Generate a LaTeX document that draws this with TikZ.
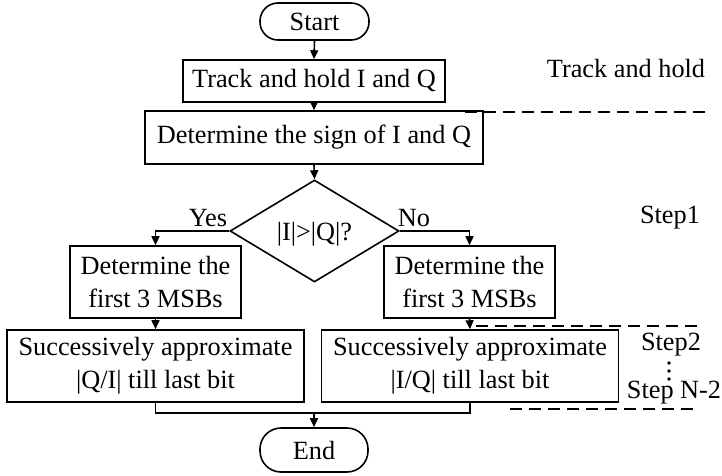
\documentclass[tikz,border=0pt]{standalone}
\usepackage{fontspec}
\setmainfont{Liberation Serif}
\usetikzlibrary{shapes.geometric,arrows.meta}
\begin{document}
\begin{tikzpicture}[x=1pt,y=-1pt,
  every node/.style={font=\fontsize{26.3}{33}\selectfont, inner sep=0pt},
  box/.style={draw, line width=1.6pt, align=center},
  term/.style={draw, line width=1.6pt, rounded corners=18pt},
  conn/.style={line width=1.6pt},
  arr/.style={conn, -{Triangle[length=9pt,width=8pt]}},
  sep/.style={line width=1.5pt, dash pattern=on 12pt off 7pt},
  lbl/.style={anchor=center}]
\useasboundingbox (0,0) rectangle (722,475);
% nodes
\node[term, minimum width=109pt, minimum height=37pt] (start) at (314.5,21.5) {Start};
\node[box, minimum width=262pt, minimum height=42pt] (track) at (314,81) {Track and hold I and Q};
\node[box, minimum width=338pt, minimum height=53pt] (sign) at (314,137.5) {Determine the sign of I and Q};
\node[draw, diamond, line width=1.6pt, minimum width=169pt, minimum height=102pt] (dia) at (314.5,231) {};
\node (diat) at (314.5,234) {|I|>|Q|?};
\node[box, minimum width=171pt, minimum height=72pt] (l1) at (155.5,282) {Determine the\\first 3 MSBs};
\node[box, minimum width=171pt, minimum height=72pt] (r1) at (469.5,282) {Determine the\\first 3 MSBs};
\node[box, minimum width=297pt, minimum height=72pt] (l2) at (155.5,366) {Successively approximate\\|Q/I| till last bit};
\node[box, minimum width=297pt, minimum height=72pt] (r2) at (470,366) {Successively approximate\\|I/Q| till last bit};
\node[term, minimum width=108pt, minimum height=44pt, rounded corners=21pt] (end) at (314,450) {End};
\node (yes) at (208,218) {Yes};
\node (no) at (414,218) {No};
% connectors
\draw[arr] (start.south) -- (track.north);
\draw[arr] (track.south) -- (sign.north);
\draw[arr] (sign.south) -- (dia.north);
\draw[arr] (dia.west) -| (l1.north);
\draw[arr] (dia.east) -| (r1.north);
\draw[arr] (l1.south) -- (l2.north);
\draw[arr] (r1.south) -- (r2.north);
\coordinate (m) at (314,413);
\draw[conn] (l2.south) |- (m) -| (r2.south);
\draw[arr] (m) -- (end.north);
% stage separators
\coordinate (d1a) at (465,112); \coordinate (d1b) at (712,112);
\coordinate (d2a) at (476,326); \coordinate (d2b) at (703,326);
\coordinate (d3a) at (510,409); \coordinate (d3b) at (695,409);
\draw[sep] (d1a) -- (d1b);
\draw[sep] (d2a) -- (d2b);
\draw[sep] (d3a) -- (d3b);
% stage labels
\node (th) at (626,68) {Track and hold};
\node (s1) at (670,218) {Step1};
\node (s2) at (671,345) {Step2};
\node (sn) at (674,393) {Step N-2};
\fill (669,363) circle (1.8pt);
\fill (669,371) circle (1.8pt);
\fill (669,379) circle (1.8pt);
\end{tikzpicture}
\end{document}
